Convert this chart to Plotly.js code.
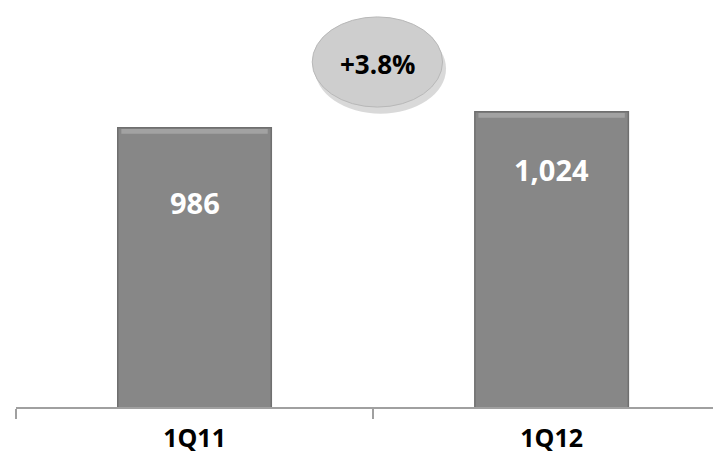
<!DOCTYPE html>
<html>
<head>
<meta charset="utf-8">
<script src="https://cdn.plot.ly/plotly-3.0.1.min.js"></script>
<style>html,body{margin:0;padding:0;background:#fff;}#chart{width:713px;height:459px;}</style>
</head>
<body>
<div id="chart"></div>
<script>
const categories = ['1Q11', '1Q12'];
const values = [986, 1024];
const valueLabels = ['986', '1,024'];
const growthLabel = '+3.8%';

const labelShift = [-75, -58];
const FONT = '"Open Sans", Lato, sans-serif';

const trace = {
  type: 'bar',
  x: categories,
  y: values,
  width: 0.43,
  marker: {color: '#878787', line: {color: '#6f6f6f', width: 1.5}},
  hoverinfo: 'skip'
};

const annotations = categories.map((c, i) => ({
  x: c, y: values[i], xref: 'x', yref: 'y',
  text: '<b>' + valueLabels[i] + '</b>',
  showarrow: false, yshift: labelShift[i],
  xanchor: 'center', yanchor: 'middle',
  font: {family: FONT, size: 29, color: '#ffffff'}
}));
annotations.push({
  xref: 'paper', yref: 'paper', x: 0.519, y: 0.887,
  xanchor: 'center', yanchor: 'middle',
  text: '<b>' + growthLabel + '</b>', showarrow: false,
  font: {family: FONT, size: 26, color: '#000000'}
});

const shapes = [
  {type: 'circle', xref: 'paper', yref: 'paper', x0: 0.429, x1: 0.617, y0: 0.758, y1: 0.99,
   fillcolor: 'rgba(0,0,0,0.15)', line: {width: 0}, layer: 'above'},
  {type: 'circle', xref: 'paper', yref: 'paper', x0: 0.425, x1: 0.612, y0: 0.775, y1: 1.008,
   fillcolor: '#cecece', line: {color: '#b8b8b8', width: 1}, layer: 'above'},
  // bar top bevel highlights
  ...categories.map((c, i) => ({
    type: 'rect', xref: 'x', yref: 'y', x0: i - 0.205, x1: i + 0.205,
    y0: values[i] - 14, y1: values[i] - 3,
    fillcolor: 'rgba(190,190,190,0.5)', line: {width: 0}, layer: 'above'
  }))
];

const layout = {
  width: 713, height: 459,
  margin: {l: 16, r: 0, t: 20, b: 52},
  paper_bgcolor: '#ffffff', plot_bgcolor: '#ffffff',
  showlegend: false,
  xaxis: {
    type: 'category', range: [-0.5, 1.452],
    showline: true, linecolor: '#a0a0a0', linewidth: 1.5,
    ticks: 'outside', tickson: 'boundaries', ticklen: 10, tickcolor: '#a0a0a0', tickwidth: 1.5,
    showgrid: false, zeroline: false,
    tickfont: {family: FONT, size: 25, color: '#000000'},
    ticklabelstandoff: 8,
    tickprefix: '<b>', ticksuffix: '</b>',
    fixedrange: true
  },
  yaxis: {
    range: [323, 1242], visible: false, showgrid: false, zeroline: false, fixedrange: true
  },
  annotations: annotations,
  shapes: shapes
};

Plotly.newPlot('chart', [trace], layout, {displayModeBar: false, staticPlot: true});
</script>
</body>
</html>
